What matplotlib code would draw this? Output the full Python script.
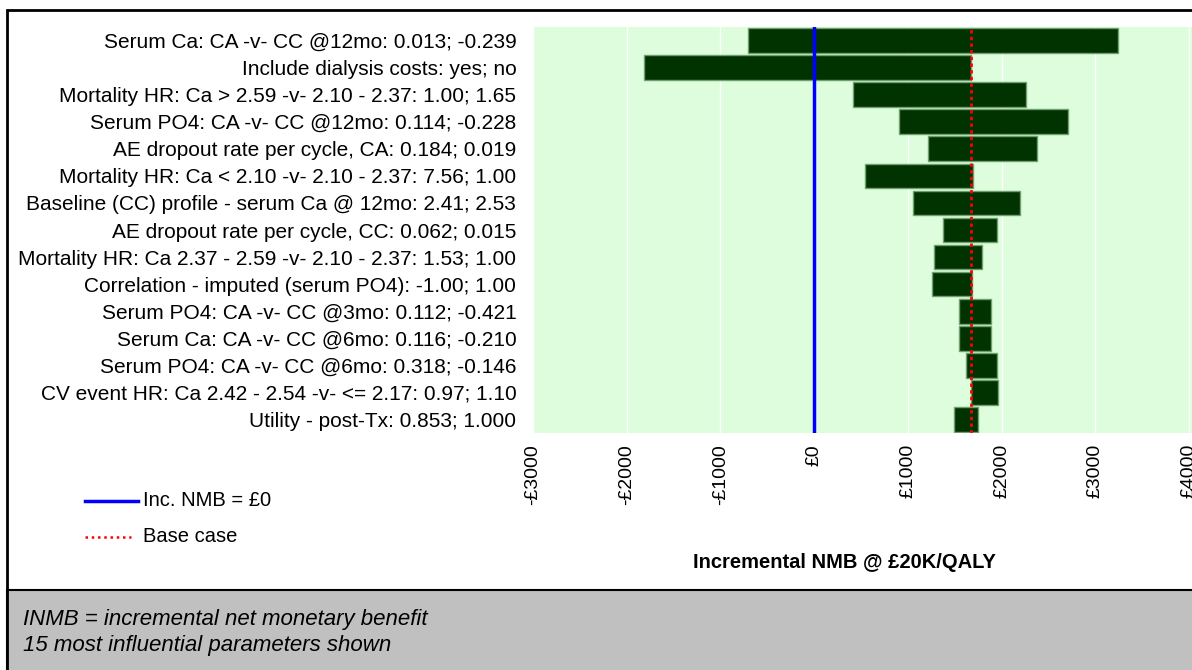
import numpy as np
import matplotlib
matplotlib.use('Agg')
import matplotlib.pyplot as plt
from matplotlib.lines import Line2D
from matplotlib.patches import Rectangle

plt.rcParams['font.family'] = ['Liberation Sans', 'DejaVu Sans']

# Tornado data: one row per parameter, top to bottom
params = [
    'Serum Ca: CA -v- CC @12mo: 0.013; -0.239',
    'Include dialysis costs: yes; no',
    'Mortality HR: Ca > 2.59 -v- 2.10 - 2.37: 1.00; 1.65',
    'Serum PO4: CA -v- CC @12mo: 0.114; -0.228',
    'AE dropout rate per cycle, CA: 0.184; 0.019',
    'Mortality HR: Ca < 2.10 -v- 2.10 - 2.37: 7.56; 1.00',
    'Baseline (CC) profile - serum Ca @ 12mo: 2.41; 2.53',
    'AE dropout rate per cycle, CC: 0.062; 0.015',
    'Mortality HR: Ca 2.37 - 2.59 -v- 2.10 - 2.37: 1.53; 1.00',
    'Correlation - imputed (serum PO4): -1.00; 1.00',
    'Serum PO4: CA -v- CC @3mo: 0.112; -0.421',
    'Serum Ca: CA -v- CC @6mo: 0.116; -0.210',
    'Serum PO4: CA -v- CC @6mo: 0.318; -0.146',
    'CV event HR: Ca 2.42 - 2.54 -v- <= 2.17: 0.97; 1.10',
    'Utility - post-Tx: 0.853; 1.000',
]
low_nmb = [-703, -1820, 410, 901, 1212, 541, 1050, 1378, 1279, 1261, 1541, 1541, 1622, 1671, 1491]
high_nmb = [3243, 1671, 2261, 2707, 2374, 1698, 2198, 1950, 1788, 1685, 1883, 1883, 1950, 1964, 1752]
base_case = 1671
x_ticks = [-3000, -2000, -1000, 0, 1000, 2000, 3000, 4000]

W, H = 1192, 670
fig = plt.figure(figsize=(W / 100, H / 100), dpi=100)

# grey footnote band
fig.add_artist(Rectangle((7 / W, -0.05), 1.2, 0.05 + 80 / H, transform=fig.transFigure,
                         facecolor='#c0c0c0', edgecolor='black', linewidth=1.5))
# outer frame
fig.add_artist(Rectangle((7 / W, -0.05), 1.2, 0.05 + (H - 10) / H, transform=fig.transFigure,
                         facecolor='none', edgecolor='black', linewidth=2))

ax = fig.add_axes([533 / W, (H - 433) / H, 660 / W, 406 / H])
ax.set_facecolor('#ddfddd')

low = np.array(low_nmb)
high = np.array(high_nmb)
y = np.arange(len(params))
ax.barh(y, high - low, left=low, height=0.91, color='#003300',
        edgecolor='#6f9f6f', linewidth=1, zorder=3)

ax.axvline(0, color='#0000ff', linewidth=2.5, zorder=4)
ax.axvline(base_case, color='red', linestyle=(0, (1.2, 1.2)), linewidth=2, zorder=5)

ax.set_xlim(-3000, 4040)
ax.set_ylim(len(params) - 0.5, -0.5)
ax.set_xticks(x_ticks)
ax.set_xticklabels([('-£%d' % abs(v)) if v < 0 else '£%d' % v for v in x_ticks],
                   rotation=90, fontsize=14)
ax.set_yticks(y)
ax.set_yticklabels(params, fontsize=15)
ax.tick_params(axis='both', length=0)
ax.tick_params(axis='y', pad=12)
ax.tick_params(axis='x', pad=8)
ax.grid(axis='x', color='white', linewidth=1, zorder=1)
ax.set_axisbelow(True)
for s in ax.spines.values():
    s.set_visible(False)

fig.text(844 / W, (H - 563) / H, 'Incremental NMB @ £20K/QALY', ha='center', va='center',
         fontsize=14.5, fontweight='bold')

# legend drawn by hand
fig.add_artist(Line2D([85 / W, 138 / W], [(H - 501) / H] * 2, transform=fig.transFigure,
                      color='#0000ff', linewidth=2.5))
fig.text(143 / W, (H - 501) / H, 'Inc. NMB = £0', va='center', fontsize=14.5)
fig.add_artist(Line2D([85 / W, 131 / W], [(H - 537) / H] * 2, transform=fig.transFigure,
                      color='red', linewidth=1.8, linestyle=(0, (1, 1.5))))
fig.text(143 / W, (H - 537) / H, 'Base case', va='center', fontsize=14.5)

fig.text(23 / W, (H - 620) / H, 'INMB = incremental net monetary benefit', va='center',
         fontsize=16, style='italic')
fig.text(23 / W, (H - 645) / H, '15 most influential parameters shown', va='center',
         fontsize=16, style='italic')

fig.savefig('out.png', dpi=100)
